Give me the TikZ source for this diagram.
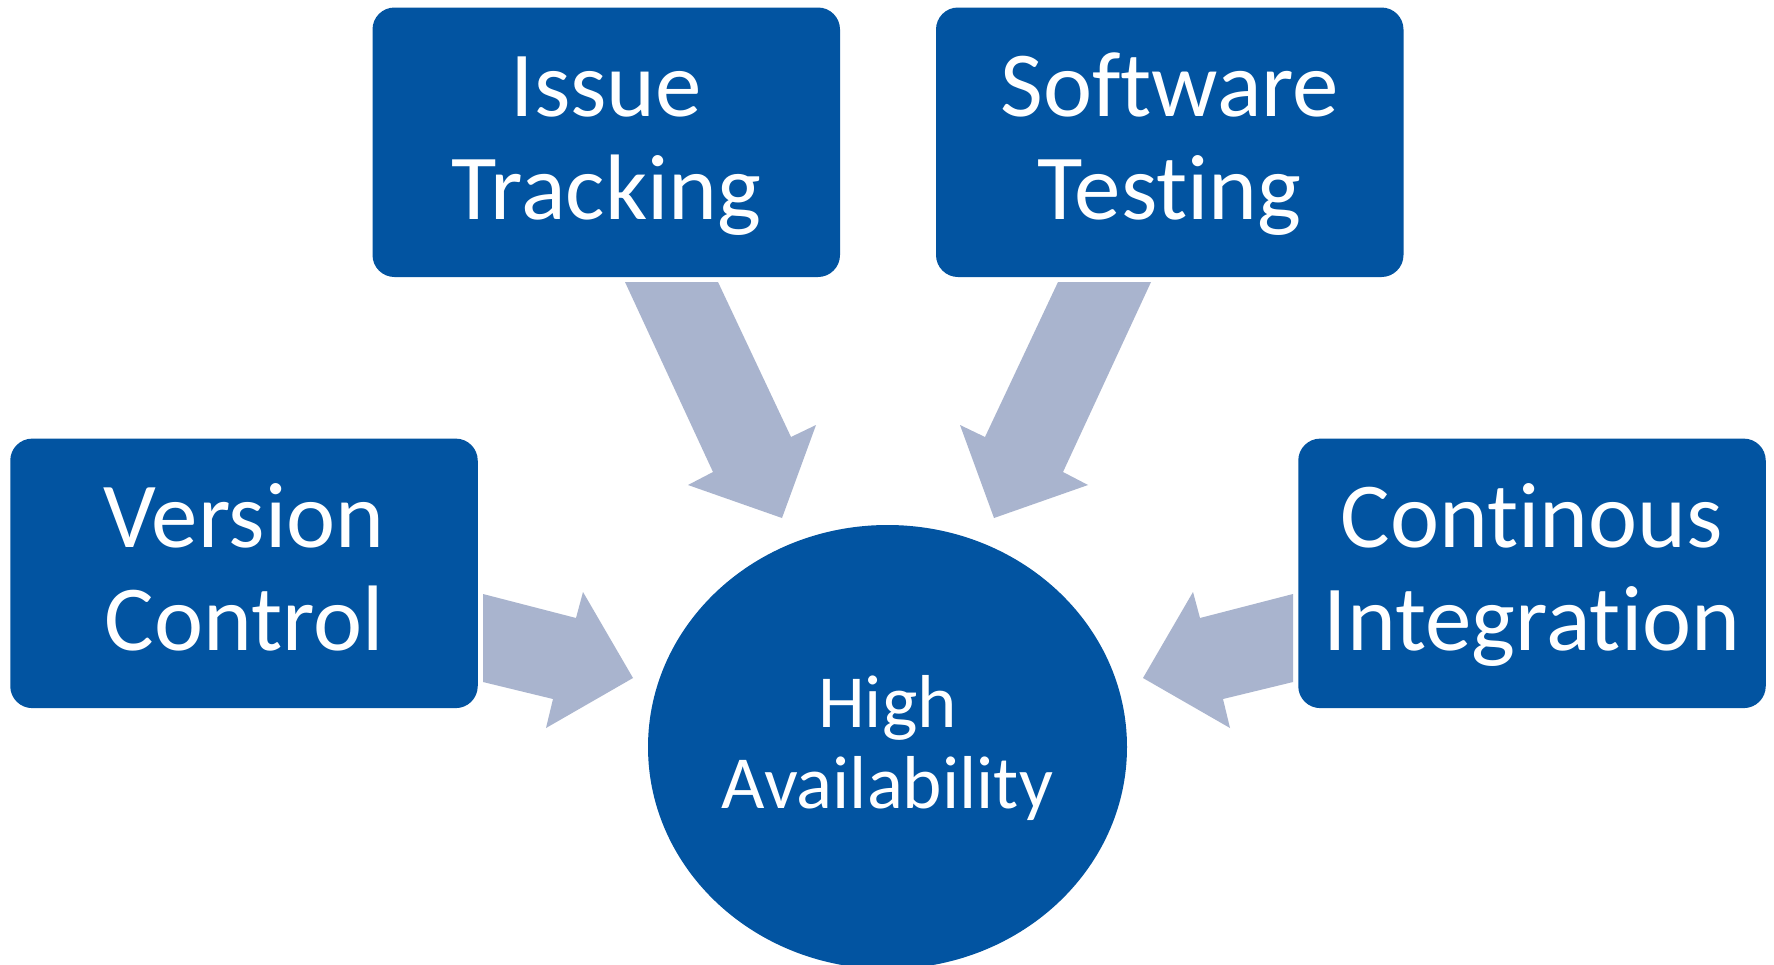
\documentclass[tikz,border=0pt]{standalone}
\usepackage{fontspec}
\setmainfont{Carlito}[Ligatures={NoCommon,NoContextual}]
\usetikzlibrary{shapes.geometric}
\definecolor{boxblue}{RGB}{2,84,161}
\definecolor{arrowgray}{RGB}{169,180,206}
\newcommand{\topstrut}{\rule{0pt}{77pt}}
\newcommand{\botstrut}{\rule[-25pt]{0pt}{25pt}}
\newcommand{\hubtop}{\rule{0pt}{61pt}}
\newcommand{\hubbot}{\rule[-20pt]{0pt}{20pt}}
\begin{document}
\begin{tikzpicture}[x=1pt,y=-1pt,
  topic/.style={fill=boxblue, rounded corners=22pt, minimum width=467.5pt, minimum height=269.5pt,
    text=white, align=center, font=\fontsize{93}{103}\selectfont, inner sep=0pt},
  hub/.style={ellipse, fill=boxblue, minimum width=479pt, minimum height=444pt,
    text=white, align=center, font=\fontsize{75}{81}\selectfont, inner sep=0pt},
  blockarrow/.style={fill=arrowgray}]
\useasboundingbox (0,0) rectangle (1774,964);
\fill[white] (0,0) rectangle (1774,964);
% topic boxes
\node[topic] (issue) at (606.25,142.25) {\topstrut Issue\\Tracking\botstrut};
\node[topic] (soft) at (1169.75,142.25) {\topstrut Software\\Testing\botstrut};
\node[topic] (vers) at (244,573.35) {\topstrut Version\\Control\botstrut};
\node[topic] (ci) at (1532,573.35) {\topstrut Continous\\Integration\botstrut};
% hub
\node[hub] (ha) at (887.5,747) {\hubtop High\\Availability\hubbot};
% block arrows
\fill[blockarrow] (625,282) -- (718,282) -- (791,437) -- (816,425) -- (782,518) -- (688,485) -- (713,472) -- cycle;
\fill[blockarrow] (1151,282) -- (1058,282) -- (985,437) -- (960,425) -- (994,518) -- (1088,485) -- (1063,472) -- cycle;
\fill[blockarrow] (483,594) -- (576,618) -- (583,592) -- (633,678) -- (546,728) -- (553,699) -- (483,682) -- cycle;
\fill[blockarrow] (1293,594) -- (1200,618) -- (1193,592) -- (1143,678) -- (1230,728) -- (1223,699) -- (1293,682) -- cycle;
\end{tikzpicture}
\end{document}
